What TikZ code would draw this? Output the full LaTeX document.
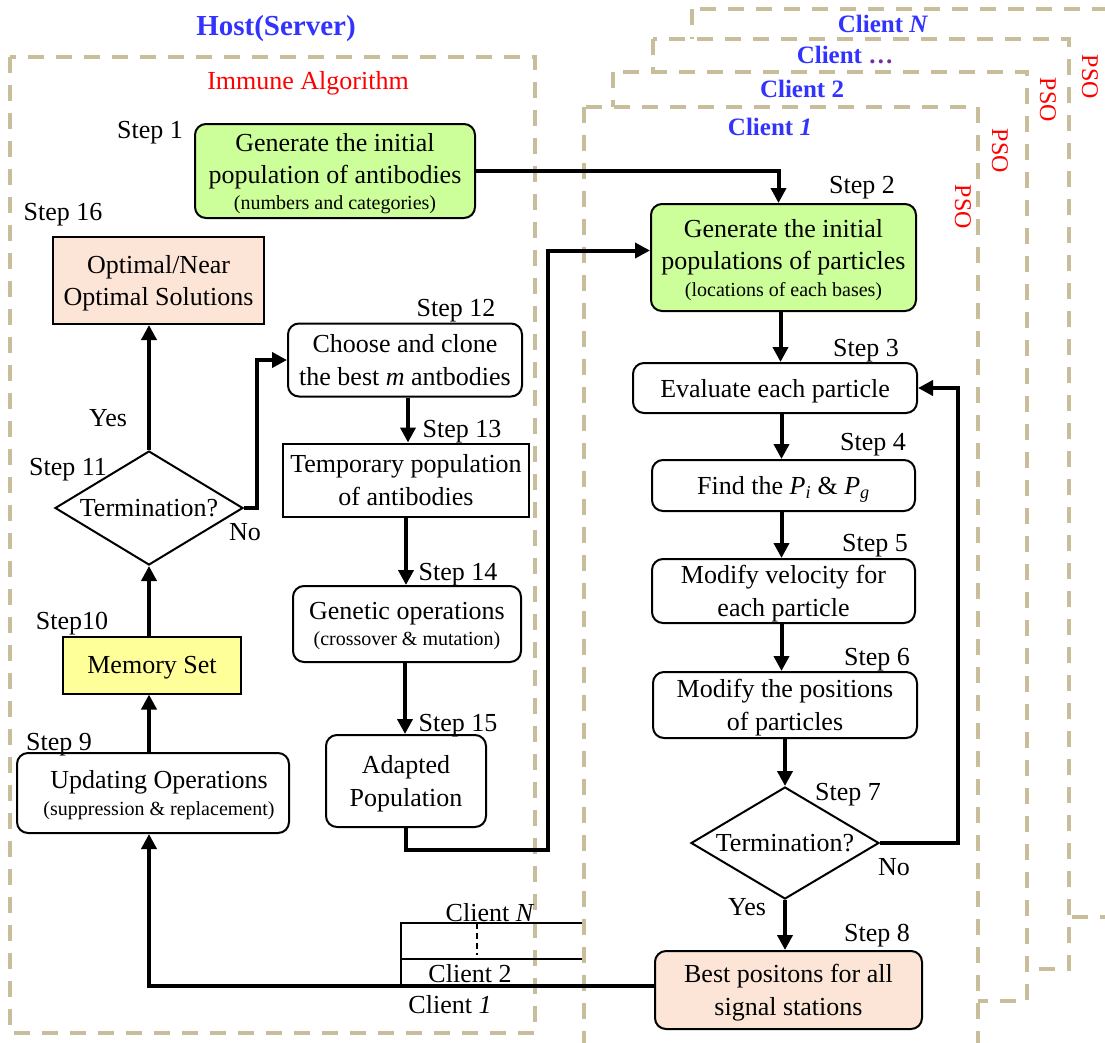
\documentclass[tikz,border=0pt]{standalone}
\usepackage{fontspec}
\setmainfont{Liberation Serif}
\usetikzlibrary{arrows.meta,shapes.geometric,calc}
\definecolor{framec}{RGB}{200,190,155}
\definecolor{greenf}{RGB}{204,255,153}
\definecolor{peachf}{RGB}{252,229,214}
\definecolor{yellowf}{RGB}{255,255,153}
\definecolor{titleblue}{RGB}{51,51,255}
\definecolor{dotpurple}{RGB}{112,48,160}
\newcommand{\smalltxt}[1]{{\fontsize{20}{22}\selectfont #1}}
\begin{document}
\begin{tikzpicture}[x=1pt,y=-1pt,
  every node/.style={font=\fontsize{26}{32.5}\selectfont, inner sep=0pt, align=center, text depth=0pt},
  frame/.style={draw=framec, line width=4pt, dash pattern=on 16pt off 12pt, fill=white},
  rbox/.style={draw, line width=2pt, rounded corners=11pt, fill=white},
  sbox/.style={draw, line width=2pt, fill=white},
  dia/.style={draw, line width=2pt, diamond, fill=white},
  arr/.style={line width=4pt, -{Triangle[length=15pt,width=15pt]}},
  thinln/.style={line width=2.2pt},
  ctitle/.style={font=\fontsize{25}{30}\selectfont\bfseries, text=titleblue},
  psol/.style={font=\fontsize{24}{28}\selectfont, text=red, rotate=-90},
]
\useasboundingbox (0,0) rectangle (1105,1042);
\clip (0,0) rectangle (1105,1042);

% ---- client frames (back to front)
\draw[frame] (692,9) rectangle (1140,917);
\node[ctitle] (tN) at (883,24) {Client \textit{N}};
\node[psol] (pN) at (1090,77) {PSO};
\draw[frame] (653,39) rectangle (1069,969);
\node[ctitle] (tD) at (845,55) {Client \textcolor{dotpurple}{\ldots}};
\node[psol] (pD) at (1048,100) {PSO};
\draw[frame] (613,72) rectangle (1027,1001);
\node[ctitle] (t2) at (802,89) {Client 2};
\node[psol] (p2) at (1000,151) {PSO};
\draw[frame] (584,107) rectangle (978,1080);
\node[ctitle] (t1) at (770,127) {Client \textit{1}};
\node[psol] (p1) at (963,207) {PSO};

% ---- host frame
\draw[frame] (10,57) rectangle (535,1033);
\node[font=\fontsize{29}{34}\selectfont\bfseries, text=titleblue] (host) at (276,25) {Host(Server)};
\node[text=red] (imm) at (308,80) {Immune Algorithm};

% ---- host nodes
\node[rbox, fill=greenf, minimum width=280pt, minimum height=94pt] (s1) at (335,171)
  {Generate the initial\\population of antibodies\\[-7pt]\smalltxt{(numbers and categories)}};
\node[sbox, fill=peachf, minimum width=211pt, minimum height=87pt] (s16) at (158.5,280.5)
  {Optimal/Near\\Optimal Solutions};
\node[rbox, minimum width=234pt, minimum height=73pt] (s12) at (405,360)
  {Choose and clone\\the best \textit{m} antbodies};
\node[sbox, minimum width=246pt, minimum height=73pt] (s13) at (406,480)
  {Temporary population\\of antibodies};
\node[rbox, minimum width=228pt, minimum height=76pt] (s14) at (407,624)
  {Genetic operations\\[-6pt]\smalltxt{(crossover \& mutation)}};
\node[rbox, minimum width=160pt, minimum height=92pt] (s15) at (406,781)
  {Adapted\\Population};
\node[dia, minimum width=188pt, minimum height=114pt, label={center:Termination?}] (d11) at (149,508) {};
\node[sbox, fill=yellowf, minimum width=178pt, minimum height=57pt] (s10) at (152,665)
  {Memory Set};
\node[rbox, minimum width=272pt, minimum height=80pt] (s9) at (153,793)
  {\hspace*{12pt}Updating Operations\\[-6pt]\hspace*{12pt}\smalltxt{(suppression \& replacement)}};

% ---- client nodes
\node[rbox, fill=greenf, minimum width=265pt, minimum height=107pt] (s2) at (783.5,257.5)
  {Generate the initial\\populations of particles\\[-6pt]\smalltxt{(locations of each bases)}};
\node[rbox, minimum width=284pt, minimum height=50pt] (s3) at (775,388)
  {Evaluate each particle};
\node[rbox, minimum width=263pt, minimum height=51pt] (s4) at (783.5,485.5)
  {Find the \textit{P}\textsubscript{\textit{i}} \& \textit{P}\textsubscript{\textit{g}}};
\node[rbox, minimum width=263pt, minimum height=64pt] (s5) at (783.5,591)
  {Modify velocity for\\each particle};
\node[rbox, minimum width=264pt, minimum height=66pt] (s6) at (785,705)
  {Modify the positions\\of particles};
\node[dia, minimum width=188pt, minimum height=112pt, label={center:Termination?}] (d7) at (785,843) {};
\node[rbox, fill=peachf, minimum width=267pt, minimum height=78pt] (s8) at (788.5,990)
  {Best positons for all\\signal stations};

% ---- step labels
\node (l1) at (150,130) {Step 1};
\node (l2) at (862,185) {Step 2};
\node (l3) at (866,348) {Step 3};
\node (l4) at (873,442) {Step 4};
\node (l5) at (875,543) {Step 5};
\node (l6) at (877,657) {Step 6};
\node (l7) at (848,792) {Step 7};
\node (l8) at (877,933) {Step 8};
\node (l9) at (59,742) {Step 9};
\node (l10) at (72,621) {Step10};
\node (l11) at (68,467) {Step 11};
\node (l12) at (456,308) {Step 12};
\node (l13) at (462,429) {Step 13};
\node (l14) at (458,572) {Step 14};
\node (l15) at (458,723) {Step 15};
\node (l16) at (63,212) {Step 16};

\node (yes11) at (108,418) {Yes};
\node (no11) at (245,532) {No};
\node (no7) at (894,867) {No};
\node (yes7) at (747,907) {Yes};

\node (cN) at (490,912) {Client \textit{N}};
\node (c2) at (470,973) {Client 2};
\node (c1) at (450,1004) {Client \textit{1}};

% ---- connectors
\coordinate (k15) at (548,850);
\coordinate (k7) at (958,0);
\coordinate (k11) at (257,0);
\draw[arr] (s1.east) -| ([xshift=-5pt]s2.north);
\draw[arr] (s15.south) |- (k15) |- ([yshift=7pt]s2.west);
\draw[arr] ([xshift=-3pt]s2.south) -- ([xshift=-3pt]s2.south |- s3.north);
\draw[arr] ([xshift=-2pt]s4.north |- s3.south) -- ([xshift=-2pt]s4.north);
\draw[arr] ([xshift=-2pt]s4.south) -- ([xshift=-2pt]s5.north);
\draw[arr] ([xshift=-2pt]s5.south) -- ([xshift=-2pt]s5.south |- s6.north);
\draw[arr] (s6.south) -- (s6.south |- d7.north);
\draw[arr] (d7.east) -- (d7.east -| k7) -- (k7 |- s3.east) -- (s3.east);
\draw[arr] (d7.south) -- (d7.south |- s8.north);
\draw[arr] ([yshift=4pt]s8.west) -| (d11.south |- s9.south);
\draw[arr] (d11.south |- s9.north) -- (d11.south |- s10.south);
\draw[arr] (d11.south |- s10.north) -- (d11.south);
\draw[arr] (d11.north) -- (d11.north |- s16.south);
\draw[arr] (d11.east) -- (d11.east -| k11) -- (k11 |- s12.west) -- (s12.west);
\draw[arr] ([xshift=3pt]s12.south) -- ([xshift=3pt]s12.south |- s13.north);
\draw[arr] (s13.south) -- (s13.south |- s14.north);
\draw[arr] ([xshift=-2pt]s14.south) -- ([xshift=-2pt]s14.south |- s15.north);

% ---- client tap lines
\coordinate (cl1) at (401,986);
\coordinate (clN) at (401,923);
\coordinate (clNe) at (582,923);
\coordinate (cl2) at (401,959);
\coordinate (cl2e) at (582,959);
\coordinate (cd1) at (477,923);
\coordinate (cd2) at (477,955);
\draw[thinln] (cl1) -- (clN) -- (clNe);
\draw[thinln] (cl2) -- (cl2e);
\draw[thinln, dash pattern=on 6pt off 4pt] (cd1) -- (cd2);
\end{tikzpicture}
\end{document}
